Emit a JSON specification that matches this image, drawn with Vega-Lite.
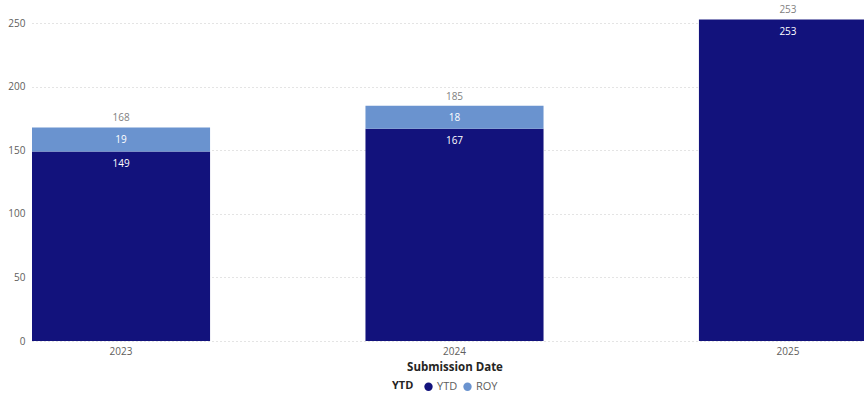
{
  "$schema": "https://vega.github.io/schema/vega-lite/v6.json",
  "autosize": "none",
  "padding": {"left": 32, "top": 8, "right": 0, "bottom": 57},
  "width": 845,
  "height": 333,
  "background": "white",
  "config": {
    "font": "Open Sans",
    "view": {"stroke": null}
  },
  "data": {
    "values": [
      {"year": "2023", "series": "YTD", "value": 149, "ord": 1},
      {"year": "2023", "series": "ROY", "value": 19, "ord": 2},
      {"year": "2024", "series": "YTD", "value": 167, "ord": 1},
      {"year": "2024", "series": "ROY", "value": 18, "ord": 2},
      {"year": "2025", "series": "YTD", "value": 253, "ord": 1}
    ]
  },
  "encoding": {
    "x": {
      "field": "year", "type": "nominal",
      "scale": {"paddingInner": 0.466, "paddingOuter": 0},
      "axis": {
        "title": "Submission Date", "labelAngle": 0, "domain": false, "ticks": false,
        "labelFontSize": 10, "labelColor": "#605E5C", "labelPadding": 5,
        "titleFontSize": 11.5, "titleFontWeight": "bold", "titleColor": "#252423", "titlePadding": 5
      }
    }
  },
  "layer": [
    {
      "mark": {"type": "bar"},
      "encoding": {
        "y": {
          "field": "value", "type": "quantitative", "stack": "zero",
          "scale": {"domain": [0, 262], "nice": false},
          "axis": {
            "title": null, "values": [0, 50, 100, 150, 200, 250], "domain": false, "ticks": false,
            "labelFontSize": 10, "labelColor": "#605E5C", "labelPadding": 7,
            "gridDash": [1, 3], "gridColor": "#C8C8C8", "gridWidth": 1
          }
        },
        "color": {
          "field": "series", "type": "nominal",
          "scale": {"domain": ["YTD", "ROY"], "range": ["#12127C", "#6A93CF"]},
          "legend": {
            "orient": "none", "legendX": 360, "legendY": 373,
            "direction": "horizontal", "title": "YTD", "titleOrient": "left",
            "titleFontSize": 11, "titleFontWeight": "bold", "titleColor": "#252423",
            "labelFontSize": 11, "labelColor": "#605E5C", "symbolType": "circle",
            "symbolSize": 70, "columnPadding": 4, "labelOffset": 3, "titlePadding": 9
          }
        },
        "order": {"field": "ord", "type": "quantitative"}
      }
    },
    {
      "mark": {"type": "text", "dy": 12.5, "fontSize": 10, "color": "white", "baseline": "middle"},
      "encoding": {
        "y": {"field": "value", "type": "quantitative", "stack": "zero"},
        "detail": {"field": "series"},
        "order": {"field": "ord", "type": "quantitative"},
        "text": {"field": "value", "type": "quantitative"}
      }
    },
    {
      "transform": [{"aggregate": [{"op": "sum", "field": "value", "as": "total"}], "groupby": ["year"]}],
      "mark": {"type": "text", "dy": -9, "fontSize": 10, "color": "#7F7F7F", "baseline": "middle"},
      "encoding": {
        "y": {"field": "total", "type": "quantitative"},
        "text": {"field": "total", "type": "quantitative"}
      }
    }
  ]
}
